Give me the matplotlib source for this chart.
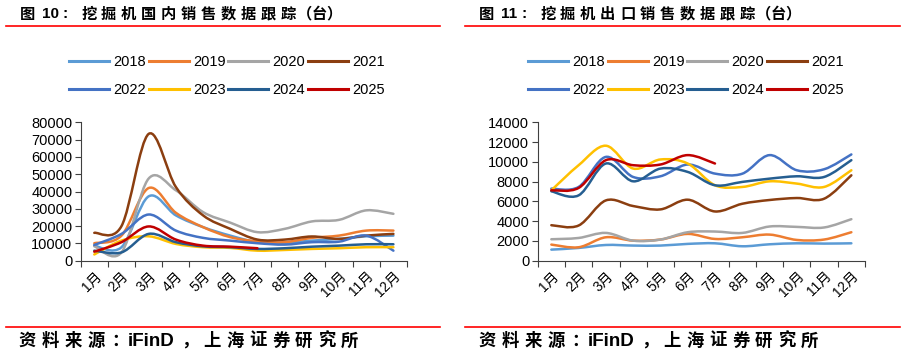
import matplotlib
matplotlib.use('Agg')

import matplotlib.pyplot as plt
import numpy as np
from matplotlib.path import Path
from matplotlib.patches import PathPatch
from matplotlib.lines import Line2D

plt.rcParams['font.family'] = ['Liberation Sans', 'Noto Sans CJK SC', 'DejaVu Sans']

# dados
meses = ['1月', '2月', '3月', '4月', '5月', '6月', '7月', '8月', '9月', '10月', '11月', '12月']
anos = ['2018', '2019', '2020', '2021', '2022', '2023', '2024', '2025']
cores = ['#5B9BD5', '#ED7D31', '#A5A5A5', '#8B3E10', '#4472C4', '#FFC000', '#255E91', '#C00000']

# 国内 (台)
dom_2018 = [8700, 7800, 37200, 26200, 19400, 14500, 10700, 10300, 11600, 12600, 14100, 14500]
dom_2019 = [10100, 14500, 42000, 27700, 19400, 13600, 11200, 10700, 13200, 14500, 17400, 17400]
dom_2020 = [8300, 4800, 47500, 40700, 28100, 22000, 16500, 18400, 22700, 23600, 29100, 27100]
dom_2021 = [16100, 20000, 73300, 42600, 26200, 18400, 12200, 12200, 14000, 12600, 14500, 15500]
dom_2022 = [9100, 15500, 26700, 17400, 13200, 11600, 10100, 9300, 10700, 11000, 14500, 5800]
dom_2023 = [3600, 11600, 14100, 9700, 7800, 7400, 5800, 6200, 6800, 7200, 7800, 7800]
dom_2024 = [5800, 4800, 15500, 10700, 8300, 7800, 6800, 7200, 8100, 8700, 9500, 9500]
dom_2025 = [5200, 10700, 19800, 12200, 8700, 8100, 7200]

# 出口 (台)
exp_2018 = [1120, 1290, 1590, 1530, 1530, 1700, 1760, 1460, 1660, 1760, 1730, 1760]
exp_2019 = [1630, 1360, 2370, 2030, 2140, 2710, 2200, 2370, 2640, 2100, 2140, 2880]
exp_2020 = [2170, 2300, 2810, 2030, 2140, 2880, 2950, 2810, 3460, 3420, 3360, 4200]
exp_2021 = [3590, 3560, 6100, 5530, 5190, 6170, 4980, 5760, 6140, 6340, 6270, 8640]
exp_2022 = [7290, 7460, 10500, 8470, 8540, 9730, 8810, 8800, 10680, 9150, 9250, 10750]
exp_2023 = [7120, 9660, 11630, 9320, 10240, 9830, 7630, 7460, 8030, 7800, 7460, 9150]
exp_2024 = [7020, 6610, 9830, 8030, 9320, 8980, 7630, 7970, 8300, 8540, 8470, 10170]
exp_2025 = [7120, 7360, 10170, 9660, 9730, 10680, 9830]

domestico = [dom_2018, dom_2019, dom_2020, dom_2021, dom_2022, dom_2023, dom_2024, dom_2025]
exportacao = [exp_2018, exp_2019, exp_2020, exp_2021, exp_2022, exp_2023, exp_2024, exp_2025]


def curva_suave(xs, ys):
    # linha suavizada tipo Excel (bezier pelos pontos)
    pts = np.column_stack([xs, ys]).astype(float)
    n = len(pts)
    verts = [pts[0]]
    codes = [Path.MOVETO]
    for i in range(n - 1):
        p0 = pts[i - 1] if i > 0 else pts[i]
        p1 = pts[i]
        p2 = pts[i + 1]
        p3 = pts[i + 2] if i + 2 < n else pts[i + 1]
        verts += [p1 + (p2 - p0) / 6, p2 - (p3 - p1) / 6, p2]
        codes += [Path.CURVE4] * 3
    return Path(verts, codes)


W, H = 905, 356
fig = plt.figure(figsize=(W / 100, H / 100), dpi=100)


def grafico(rect, series, ymax, ystep):
    ax = fig.add_axes(rect)
    for vals, cor in zip(series, cores):
        xs = np.arange(len(vals)) + 0.5
        ax.add_patch(PathPatch(curva_suave(xs, vals), fill=False, edgecolor=cor,
                               lw=1.8, capstyle='round', joinstyle='round'))
    ax.set_xlim(0, 12)
    ax.set_ylim(0, ymax)
    ax.set_yticks(np.arange(0, ymax + 1, ystep))
    ax.set_xticks(np.arange(0, 13))
    ax.set_xticklabels([])
    ax.set_xticks(np.arange(12) + 0.5, minor=True)
    ax.set_xticklabels(meses, minor=True, rotation=45, ha='right', va='top',
                       rotation_mode='anchor', fontsize=10)
    ax.tick_params(axis='x', which='minor', length=0, pad=6)
    ax.tick_params(axis='x', which='major', length=4, color='#404040')
    ax.tick_params(axis='y', length=4, color='#404040', labelsize=10.5, pad=2)
    for s in ['top', 'right']:
        ax.spines[s].set_visible(False)
    for s in ['left', 'bottom']:
        ax.spines[s].set_color('#404040')
    return ax


ax1 = grafico([80.7 / W, 1 - 260.7 / H, 326.3 / W, 138.4 / H], domestico, 80000, 10000)
ax2 = grafico([537.7 / W, 1 - 260.7 / H, 327.3 / W, 138.4 / H], exportacao, 14000, 2000)

# legenda preenchida por linhas
ordem = [0, 4, 1, 5, 2, 6, 3, 7]
handles = [Line2D([], [], color=cores[i], lw=2.2) for i in ordem]
labels = [anos[i] for i in ordem]
for cx in [227 / W, 686 / W]:
    fig.legend(handles, labels, loc='center', bbox_to_anchor=(cx, 1 - 76 / H), ncol=4,
               frameon=False, fontsize=10.5, handlelength=2.74, handletextpad=0.3,
               columnspacing=0.17, labelspacing=0.95)


# titulos
def titulo(x0, num, texto):
    y = 1 - 13.5 / H
    fig.text(x0 / W, y, '图', fontsize=11, fontweight='bold', va='center',
             family=['Noto Sans CJK SC'])
    fig.text((x0 + 22) / W, y, num, fontsize=11, fontweight='bold', va='center')
    fig.text((x0 + 42) / W, y, ':', fontsize=11, fontweight='bold', va='center')
    xs = [x0 + 61 + 20 * i for i in range(11)] + [x0 + 277, x0 + 292, x0 + 306]
    for ch, x in zip(texto, xs):
        fig.text(x / W, y, ch, fontsize=11, fontweight='bold', va='center',
                 family=['Noto Sans CJK SC'])


titulo(20, '10', '挖掘机国内销售数据跟踪（台）')
titulo(479, '11', '挖掘机出口销售数据跟踪（台）')

# linhas vermelhas
for xa, xb in [(6, 440), (465, 900)]:
    fig.add_artist(Line2D([xa / W, xb / W], [1 - 26 / H] * 2, color='#FF0000', lw=1.2))
    fig.add_artist(Line2D([xa / W, xb / W], [1 - 327 / H] * 2, color='#FF0000', lw=1.2))


# fonte
def fonte(x0):
    y = 1 - 341 / H
    for i, ch in enumerate('资料来源：'):
        fig.text((x0 + 23.3 * i) / W, y, ch, fontsize=12.5, fontweight='bold', va='center',
                 family=['Noto Sans CJK SC'])
    fig.text((x0 + 110) / W, y, 'iFinD', fontsize=13.5, fontweight='bold', va='center')
    fig.text((x0 + 163) / W, y, '，', fontsize=12.5, fontweight='bold', va='center',
             family=['Noto Sans CJK SC'])
    for i, ch in enumerate('上海证券研究所'):
        fig.text((x0 + 185 + 23 * i) / W, y, ch, fontsize=12.5, fontweight='bold',
                 va='center', family=['Noto Sans CJK SC'])


fonte(18)
fonte(478)

fig.savefig('out.png', dpi=100)
